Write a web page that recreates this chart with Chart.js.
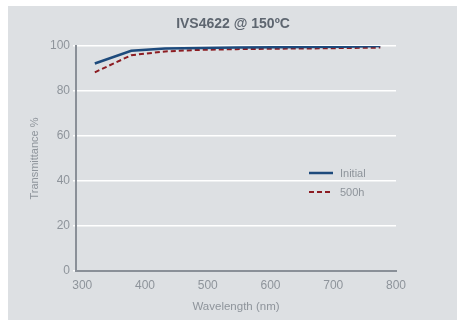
<!DOCTYPE html>
<html>
<head>
<meta charset="utf-8">
<script src="https://cdn.jsdelivr.net/npm/chart.js@4"></script>
<style>
  html, body { margin: 0; padding: 0; background: #fff; }
  #wrap { width: 457px; height: 320px; }
</style>
</head>
<body>
<div id="wrap"><canvas id="chart" width="457" height="320"></canvas></div>
<script>
// data
const wavelengths = [320, 378, 432, 490, 546, 604, 660, 718, 775];
const initialValues = [92.2, 97.9, 98.9, 99.1, 99.3, 99.4, 99.5, 99.7, 100];
const agedValues = [88.3, 95.9, 97.6, 98.3, 98.6, 98.8, 98.9, 99.1, 99.3];
const xTicks = [300, 400, 500, 600, 700, 800];
const seriesNames = ["Initial", "500h"];
const chartTitle = "IVS4622 @ 150ºC";

const grey = "#8e949b";
const font = "'Liberation Sans', Arial, sans-serif";

const toPoints = (vals) => wavelengths.map((w, i) => ({ x: w, y: vals[i] }));

// grey panel behind the chart + the title centred on the panel
const panel = {
  id: "panel",
  beforeDraw(chart) {
    const ctx = chart.ctx;
    ctx.save();
    ctx.fillStyle = "#dde0e3";
    ctx.fillRect(8, 6, 449, 314);
    ctx.fillStyle = "#5e6670";
    ctx.font = "bold 14px " + font;
    ctx.textAlign = "center";
    ctx.textBaseline = "middle";
    ctx.fillText(chartTitle, 233, 24);
    ctx.restore();
  },
};

// legend sitting inside the plot
const innerLegend = {
  id: "innerLegend",
  afterDraw(chart) {
    const ctx = chart.ctx;
    ctx.save();
    chart.data.datasets.forEach((ds, i) => {
      const y = 173 + i * 19;
      ctx.strokeStyle = ds.borderColor;
      ctx.lineWidth = ds.borderWidth;
      ctx.setLineDash(ds.borderDash || []);
      ctx.beginPath();
      ctx.moveTo(309, y);
      ctx.lineTo(333, y);
      ctx.stroke();
      ctx.setLineDash([]);
      ctx.fillStyle = grey;
      ctx.font = "11px " + font;
      ctx.textBaseline = "middle";
      ctx.fillText(ds.label, 340, y + 1);
    });
    ctx.restore();
  },
};

new Chart(document.getElementById("chart"), {
  type: "line",
  data: {
    datasets: [
      {
        label: seriesNames[0],
        data: toPoints(initialValues),
        borderColor: "#1d4a7c",
        borderWidth: 2.5,
        pointRadius: 0,
        tension: 0,
      },
      {
        label: seriesNames[1],
        data: toPoints(agedValues),
        borderColor: "#8c1c22",
        borderWidth: 2,
        borderDash: [5, 3],
        pointRadius: 0,
        tension: 0,
      },
    ],
  },
  options: {
    responsive: false,
    animation: false,
    layout: { padding: { left: 8, right: 61, top: 46, bottom: 0 } },
    plugins: {
      legend: { display: false },
      tooltip: { enabled: false },
      title: { display: false },
    },
    scales: {
      x: {
        type: "linear",
        min: 290,
        max: 800,
        afterBuildTicks(scale) {
          scale.ticks = xTicks.map((v) => ({ value: v }));
        },
        afterFit(scale) {
          scale.height = 49;
        },
        grid: { display: false, drawTicks: false },
        border: { color: "#8a9098", width: 2 },
        ticks: {
          color: grey,
          font: { family: font, size: 12 },
          padding: 7,
          maxRotation: 0,
        },
        title: {
          display: true,
          text: "Wavelength (nm)",
          color: grey,
          font: { family: font, size: 11.5 },
          padding: { top: 0, bottom: 6 },
        },
      },
      y: {
        min: 0,
        max: 100,
        afterFit(scale) {
          scale.width = 68;
        },
        ticks: {
          stepSize: 20,
          color: grey,
          font: { family: font, size: 12 },
          padding: 3,
        },
        grid: {
          color: "#ffffff",
          lineWidth: 1.5,
          tickLength: 3,
          tickColor: "#ffffff",
        },
        border: { color: "#8a9098", width: 2 },
        title: {
          display: true,
          text: "Transmittance %",
          color: grey,
          font: { family: font, size: 11 },
          padding: { top: 20, bottom: 0 },
        },
      },
    },
  },
  plugins: [panel, innerLegend],
});
</script>
</body>
</html>
